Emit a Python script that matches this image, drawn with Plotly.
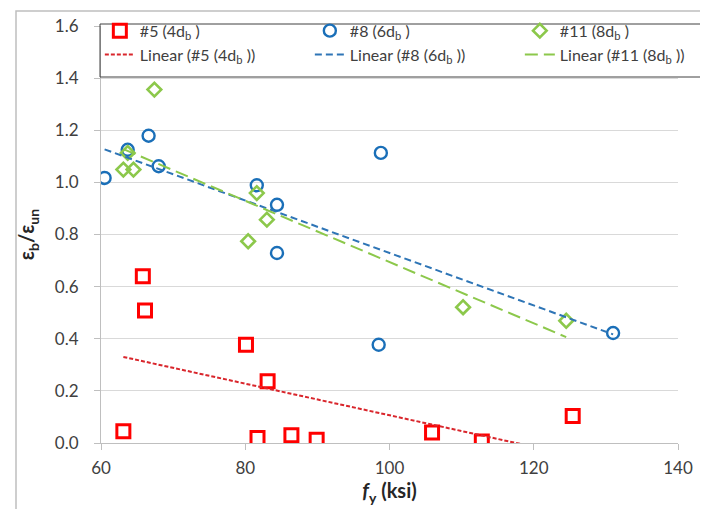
import numpy as np
import plotly.graph_objects as go

# ---- data ----
fy_5 = [63.1, 65.8, 66.1, 80.1, 81.7, 83.1, 86.4, 89.9, 105.9, 112.8, 125.4]
r_5 = [0.045, 0.640, 0.508, 0.377, 0.019, 0.237, 0.030, 0.012, 0.040, 0.006, 0.104]

fy_8 = [60.5, 63.7, 66.6, 68.0, 81.6, 84.4, 84.4, 98.8, 98.5, 131.0]
r_8 = [1.017, 1.125, 1.179, 1.062, 0.989, 0.914, 0.729, 1.113, 0.377, 0.422]

fy_11 = [67.4, 63.7, 63.1, 64.5, 81.6, 83.0, 80.4, 110.2, 124.5]
r_11 = [1.356, 1.113, 1.049, 1.049, 0.959, 0.857, 0.774, 0.521, 0.469]

x_ticks = [60, 80, 100, 120, 140]
y_ticks = [0.0, 0.2, 0.4, 0.6, 0.8, 1.0, 1.2, 1.4, 1.6]

names = ["#5 (4d<sub>b</sub> )", "#8 (6d<sub>b</sub> )", "#11 (8d<sub>b</sub> )"]

W, H = 708, 509
L, R, T, B = 93, 38, 18, 74
pw, ph = W - L - R, H - T - B

fig = go.Figure()

def trend(x, y):
    a, b = np.polyfit(x, y, 1)
    xs = np.array([min(x), max(x)])
    return xs, a * xs + b

series = [
    (fy_5, r_5, names[0], "#ff0000", "square-open", 13, 3.0),
    (fy_8, r_8, names[1], "#1a6fb8", "circle-open", 12, 2.4),
    (fy_11, r_11, names[2], "#8cc84b", "diamond-open", 10.5, 2.6),
]
for x, y, nm, col, sym, sz, lw in series:
    fig.add_trace(go.Scatter(x=x, y=y, mode="markers", name=nm,
                             marker=dict(symbol=sym, size=sz, color=col,
                                         line=dict(color=col, width=lw))))

trend_styles = [("#d9262c", "4px,2px"), ("#2e75b6", "7px,4px"), ("#8cc84b", "13px,6px")]
for (x, y, nm, *_), (col, dash) in zip(series, trend_styles):
    xs, ys = trend(x, y)
    fig.add_trace(go.Scatter(x=xs, y=ys, mode="lines", name="Linear (" + nm + ")",
                             line=dict(color=col, width=2, dash=dash)))

fig.update_layout(
    width=W, height=H,
    margin=dict(l=L, r=R, t=T, b=B, autoexpand=False),
    paper_bgcolor="white", plot_bgcolor="white",
    font=dict(family="Lato, Calibri, sans-serif", size=16, color="#404040"),
    showlegend=True,
    legend=dict(orientation="h", x=-0.002, xanchor="left", y=1.0294, yanchor="top",
                entrywidth=165, borderwidth=0,
                bgcolor="rgba(0,0,0,0)", font=dict(size=16, color="#404040"),
                tracegroupgap=0, itemwidth=30),
    xaxis=dict(range=[60, 140], tickvals=x_ticks, ticktext=[str(v) for v in x_ticks],
               showgrid=False, zeroline=False, showline=True, linecolor="#bfbfbf",
               linewidth=1, ticks="outside", ticklen=6, tickcolor="#bfbfbf",
               ticklabelstandoff=4,
               tickfont=dict(size=17, color="#404040"),
               title=dict(text="<b><i>f</i><sub>y</sub> (ksi)</b>", standoff=6,
                          font=dict(size=20, color="#262626"))),
    yaxis=dict(range=[0, 1.6], tickvals=y_ticks, ticktext=[f"{v:.1f}" for v in y_ticks],
               showgrid=True, gridcolor="#d9d9d9", gridwidth=1, zeroline=False,
               showline=True, linecolor="#bfbfbf", linewidth=1, ticks="outside",
               ticklen=6, tickcolor="#bfbfbf", ticklabelstandoff=12,
               tickfont=dict(size=17, color="#404040"),
               title=dict(text="<b>ε<sub>b</sub>/ε<sub>un</sub></b>", standoff=14,
                          font=dict(size=20, color="#262626"))),
)

def px_to_paper_x(px):
    return (px - L) / pw

def px_to_paper_y(py):
    return (H - B - py) / ph

# outer chart border
fig.add_shape(type="rect", xref="paper", yref="paper",
              x0=px_to_paper_x(8), x1=px_to_paper_x(707),
              y0=px_to_paper_y(505), y1=px_to_paper_y(3),
              line=dict(color="#bfbfbf", width=1.5), fillcolor="rgba(0,0,0,0)",
              layer="below")

# legend frame
fig.add_shape(type="rect", xref="paper", yref="paper",
              x0=px_to_paper_x(92), x1=px_to_paper_x(712),
              y0=px_to_paper_y(69), y1=px_to_paper_y(16),
              line=dict(color="#404040", width=1), fillcolor="rgba(0,0,0,0)",
              layer="above")

fig.write_html("out.html")
